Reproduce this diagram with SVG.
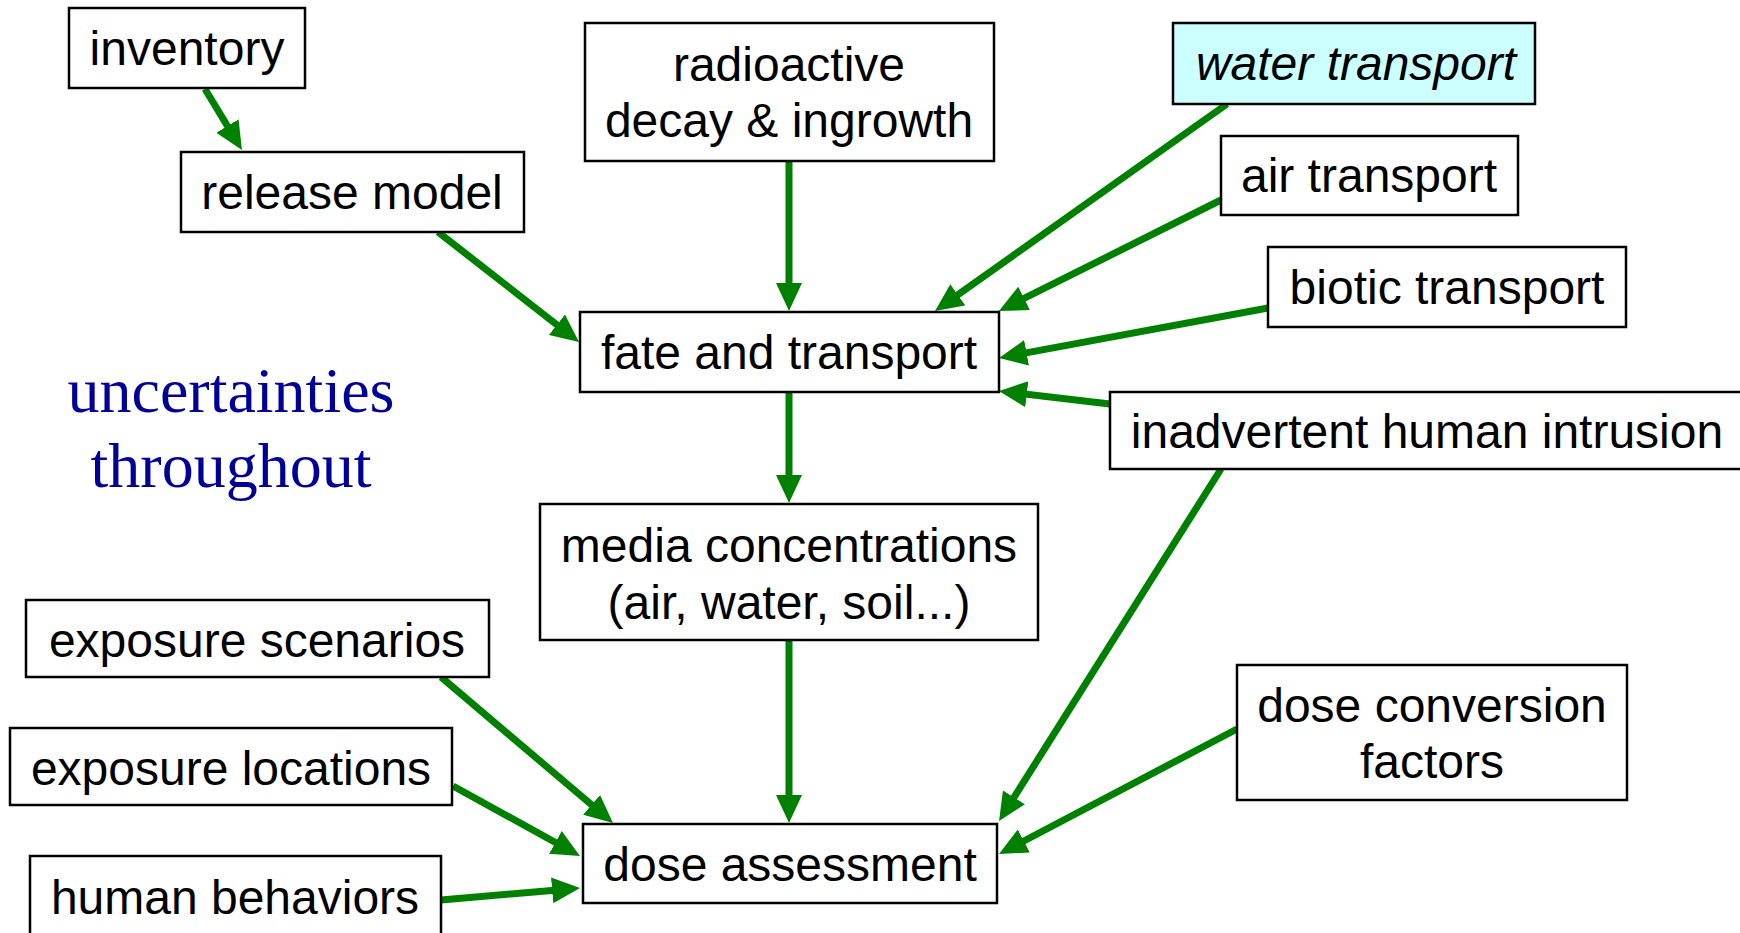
<svg xmlns="http://www.w3.org/2000/svg" width="1740" height="933" viewBox="0 0 1740 933">
<defs>
<style>
.box{fill:#fff;stroke:#000;stroke-width:2.5}
.hl{fill:#ccffff}
.t{font-family:"Liberation Sans",Arial,sans-serif;font-size:48px;fill:#000;text-anchor:middle}
.it{font-style:italic}
.u{font-family:"Liberation Serif","Times New Roman",serif;font-size:64px;fill:#000099;text-anchor:middle}
.c{fill:none;stroke:#008000;stroke-width:7;marker-end:url(#ah)}
</style>
<marker id="ah" markerUnits="userSpaceOnUse" markerWidth="30" markerHeight="28" refX="14" refY="13" orient="auto">
<path d="M0,0 L28,13 L0,26 z" fill="#008000"/>
</marker>
</defs>
<rect width="1740" height="933" fill="#fff"/>
<g id="connectors">
<path class="c" d="M205,89 L234.7,138"/>
<path class="c" d="M438,232 L568,333.4"/>
<path class="c" d="M789,161 L789,297"/>
<path class="c" d="M1227,104 L946.4,302.9"/>
<path class="c" d="M1221,200 L1011.5,304.7"/>
<path class="c" d="M1268,308 L1012.8,355.4"/>
<path class="c" d="M1110,404 L1012.9,392.6"/>
<path class="c" d="M789,392 L789,489"/>
<path class="c" d="M789,640 L789,809"/>
<path class="c" d="M441,677 L602.3,813.9"/>
<path class="c" d="M453,786 L567.7,849.2"/>
<path class="c" d="M441,900 L566.1,889.2"/>
<path class="c" d="M1221,469 L1006.5,809.2"/>
<path class="c" d="M1237,729 L1011.4,847.5"/>
</g>
<g id="inventory"><rect class="box" x="69" y="8" width="236" height="80"/><text class="t" x="187" y="65">inventory</text></g>
<g id="release-model"><rect class="box" x="181" y="152" width="343" height="80"/><text class="t" x="352" y="209">release model</text></g>
<g id="radioactive-decay"><rect class="box" x="585" y="23" width="409" height="138"/><text class="t" x="789" y="81">radioactive</text><text class="t" x="789" y="137">decay &amp; ingrowth</text></g>
<g id="water-transport"><rect class="box hl" x="1173" y="23" width="362" height="81"/><text class="t it" x="1356" y="80">water transport</text></g>
<g id="air-transport"><rect class="box" x="1221" y="136" width="297" height="79"/><text class="t" x="1369" y="192">air transport</text></g>
<g id="biotic-transport"><rect class="box" x="1268" y="247" width="358" height="80"/><text class="t" x="1447" y="304">biotic transport</text></g>
<g id="fate-and-transport"><rect class="box" x="580" y="312" width="419" height="80"/><text class="t" x="789" y="369">fate and transport</text></g>
<g id="inadvertent-human-intrusion"><rect class="box" x="1110" y="392" width="640" height="77"/><text class="t" x="1427" y="448">inadvertent human intrusion</text></g>
<g id="uncertainties"><text class="u" x="231" y="412">uncertainties</text><text class="u" x="231" y="487">throughout</text></g>
<g id="media-concentrations"><rect class="box" x="540" y="504" width="498" height="136"/><text class="t" x="789" y="562">media concentrations</text><text class="t" x="789" y="619">(air, water, soil...)</text></g>
<g id="exposure-scenarios"><rect class="box" x="26" y="600" width="463" height="77"/><text class="t" x="257" y="657">exposure scenarios</text></g>
<g id="exposure-locations"><rect class="box" x="10" y="728" width="442" height="77"/><text class="t" x="231" y="785">exposure locations</text></g>
<g id="human-behaviors"><rect class="box" x="30" y="856" width="411" height="82"/><text class="t" x="235" y="914">human behaviors</text></g>
<g id="dose-assessment"><rect class="box" x="583" y="824" width="414" height="79"/><text class="t" x="790" y="881">dose assessment</text></g>
<g id="dose-conversion-factors"><rect class="box" x="1237" y="665" width="390" height="135"/><text class="t" x="1432" y="722">dose conversion</text><text class="t" x="1432" y="778">factors</text></g>
</svg>
